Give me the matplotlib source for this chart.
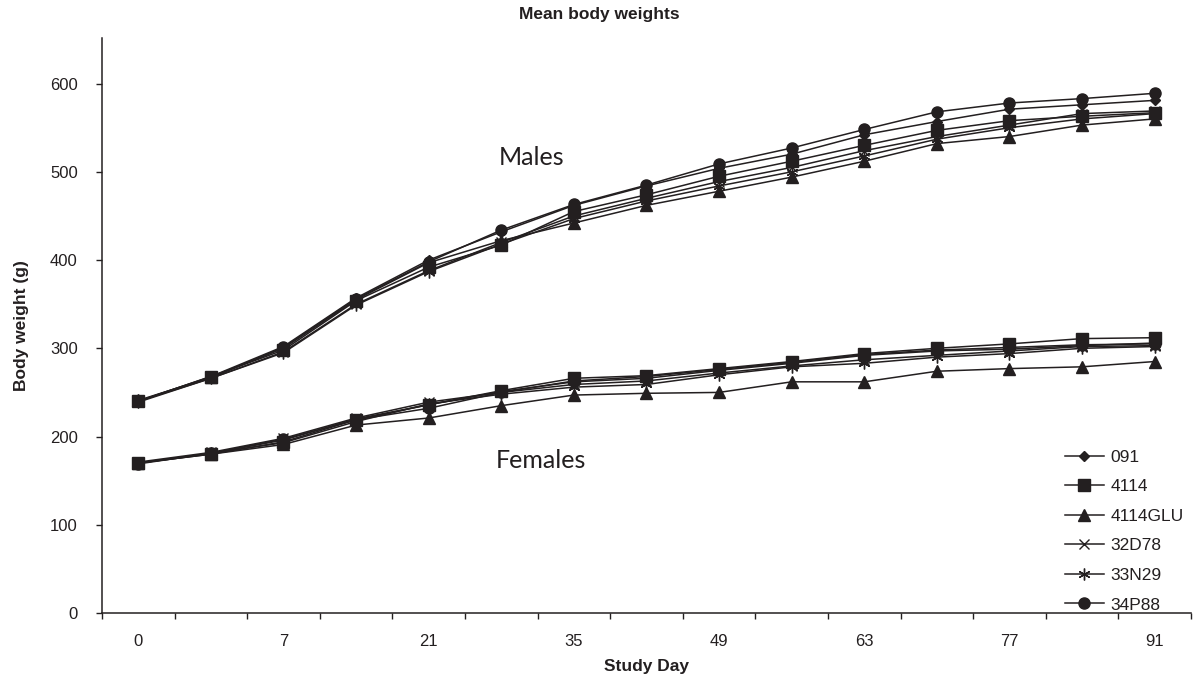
import numpy as np
import matplotlib
matplotlib.use('Agg')
import matplotlib.pyplot as plt

# study days (categorical x axis, Excel style)
days = [0, 3, 7, 14, 21, 28, 35, 42, 49, 56, 63, 70, 77, 84, 91]
day_labels = ['0', '', '7', '', '21', '', '35', '', '49', '', '63', '', '77', '', '91']

groups = ['091', '4114', '4114GLU', '32D78', '33N29', '34P88']

# males (g)
m_091    = [240, 268, 302, 357, 400, 432, 462, 484, 504, 520, 542, 557, 571, 576, 581]
m_4114   = [240, 268, 298, 354, 392, 417, 455, 474, 495, 512, 530, 547, 558, 563, 567]
m_4114g  = [241, 267, 300, 355, 397, 422, 442, 462, 478, 494, 512, 532, 540, 553, 560]
m_32d78  = [240, 266, 296, 350, 388, 420, 450, 470, 489, 505, 524, 540, 553, 566, 569]
m_33n29  = [239, 266, 295, 349, 387, 418, 447, 467, 484, 500, 518, 537, 550, 560, 566]
m_34p88  = [240, 267, 301, 356, 398, 434, 463, 485, 509, 527, 548, 568, 578, 583, 589]

# females (g)
f_091    = [170, 181, 196, 220, 236, 251, 262, 266, 275, 283, 292, 297, 299, 303, 306]
f_4114   = [170, 180, 194, 219, 236, 252, 266, 269, 277, 285, 294, 300, 305, 311, 312]
f_4114g  = [170, 180, 191, 213, 221, 235, 247, 249, 250, 262, 262, 274, 277, 279, 285]
f_32d78  = [171, 182, 198, 221, 239, 250, 259, 263, 272, 280, 287, 292, 297, 302, 303]
f_33n29  = [170, 181, 193, 217, 237, 248, 256, 259, 270, 279, 283, 290, 294, 300, 302]
f_34p88  = [169, 181, 197, 219, 232, 250, 263, 268, 276, 284, 293, 298, 301, 304, 305]

males = [m_091, m_4114, m_4114g, m_32d78, m_33n29, m_34p88]
females = [f_091, f_4114, f_4114g, f_32d78, f_33n29, f_34p88]

markers = ['D', 's', '^', 'x', (6, 2, 0), 'o']
msizes = [5.5, 8, 8, 7, 8.5, 8]
col = '#231f20'

plt.rcParams['font.family'] = ['Liberation Sans', 'DejaVu Sans']

fig = plt.figure(figsize=(11.93, 6.76), dpi=100)
ax = fig.add_axes([0.0855, 0.0932, 0.9128, 0.851])

x = np.arange(len(days))
for i, g in enumerate(groups):
    ax.plot(x, males[i], color=col, lw=1.1, marker=markers[i], ms=msizes[i],
            mec=col, mfc=col, mew=1.0, label=g)
    ax.plot(x, females[i], color=col, lw=1.1, marker=markers[i], ms=msizes[i],
            mec=col, mfc=col, mew=1.0)

ax.set_xlim(-0.5, len(days) - 0.5)
ax.set_ylim(0, 652)
ax.set_yticks(range(0, 700, 100))
ax.set_xticks(np.arange(-0.5, len(days), 1.0))
ax.set_xticklabels([])
ax.set_xticks(x, minor=True)
ax.set_xticklabels(day_labels, minor=True)
ax.tick_params(axis='x', which='major', direction='out', length=4.5, width=1, color=col)
ax.tick_params(axis='x', which='minor', length=0, pad=15, labelsize=12, labelcolor=col)
ax.tick_params(axis='y', direction='out', length=4.5, width=1, color=col,
               labelsize=12, labelcolor=col, pad=13)
for s in ['top', 'right']:
    ax.spines[s].set_visible(False)
for s in ['left', 'bottom']:
    ax.spines[s].set_color(col)
    ax.spines[s].set_linewidth(1.1)

ax.set_xlabel('Study Day', fontsize=12.5, fontweight='bold', color=col, labelpad=7)
ax.set_ylabel('Body weight (g)', fontsize=12.5, fontweight='bold', color=col, labelpad=15)
fig.text(0.502, 0.978, 'Mean body weights', ha='center', va='center',
         fontsize=12.5, fontweight='bold', color=col)

ax.text(4.97, 516, 'Males', fontsize=18, family=['Lato', 'DejaVu Sans'],
        color=col, va='center', ha='left')
ax.text(4.93, 173, 'Females', fontsize=18, family=['Lato', 'DejaVu Sans'],
        color=col, va='center', ha='left')

leg = ax.legend(loc='upper left', bbox_to_anchor=(0.893, 0.335), bbox_transform=fig.transFigure,
                frameon=False, fontsize=12.5, labelspacing=0.83, handlelength=2.2,
                handletextpad=0.4, borderaxespad=0, borderpad=0)
for t in leg.get_texts():
    t.set_color(col)

fig.savefig('out.png', dpi=100)
